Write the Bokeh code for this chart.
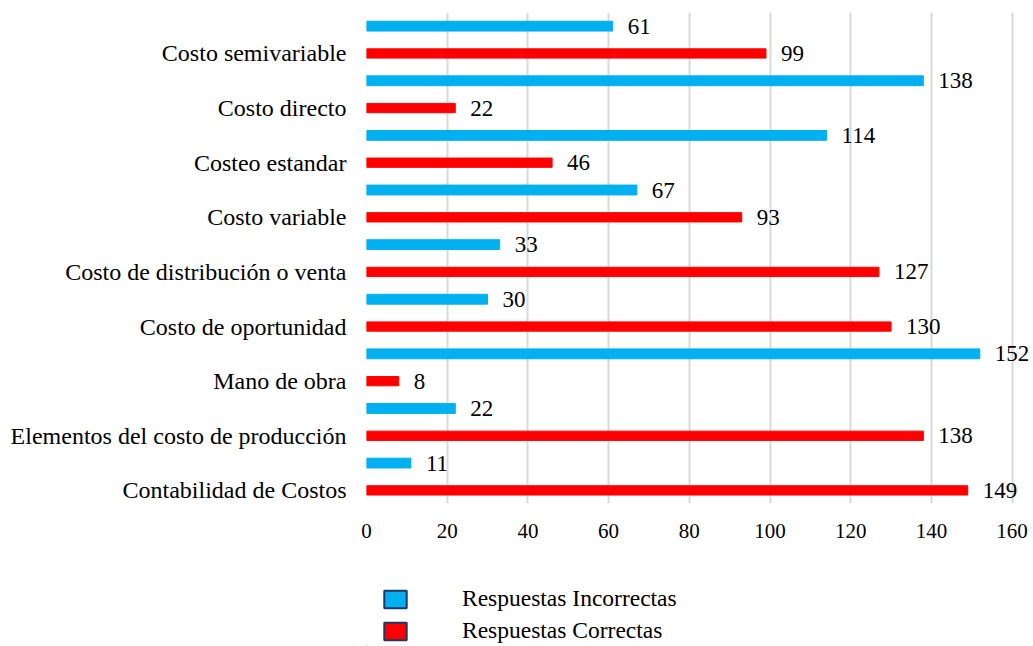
from bokeh.plotting import figure
from bokeh.layouts import column
from bokeh.models import ColumnDataSource, FixedTicker, Legend, LegendItem, Range1d
from bokeh.core.properties import value
from bokeh.embed import file_html
from bokeh.resources import INLINE

categories = [
    "Contabilidad de Costos",
    "Elementos del costo de producción",
    "Mano de obra",
    "Costo de oportunidad",
    "Costo de distribución o venta",
    "Costo variable",
    "Costeo estandar",
    "Costo directo",
    "Costo semivariable",
]
correctas = [149, 138, 8, 130, 127, 93, 46, 22, 99]
incorrectas = [11, 22, 152, 30, 33, 67, 114, 138, 61]
x_ticks = [0, 20, 40, 60, 80, 100, 120, 140, 160]
series = ["Respuestas Incorrectas", "Respuestas Correctas"]

FONT = "Liberation Serif"
RED = "#ff0000"
BLUE = "#00b0f0"

pos = list(range(len(categories)))
src_c = ColumnDataSource(dict(y=pos, v=correctas, t=[str(v) for v in correctas]))
src_i = ColumnDataSource(dict(y=[p + 0.5 for p in pos], v=incorrectas, t=[str(v) for v in incorrectas]))

p = figure(width=1033, height=560, output_backend="svg", toolbar_location=None,
           x_range=Range1d(0, 165.3), y_range=Range1d(-0.24, 8.75),
           min_border_left=366, min_border_right=0, min_border_top=12, min_border_bottom=57)
p.outline_line_color = None
p.background_fill_color = "white"

p.hbar(y="y", right="v", left=0, height=0.17, color=RED, source=src_c)
p.hbar(y="y", right="v", left=0, height=0.18, color=BLUE, source=src_i)

for s in (src_c, src_i):
    p.text(x="v", y="y", text="t", source=s, x_offset=15, text_baseline="middle",
           text_font=value(FONT), text_font_size="23px", text_color="black")

p.xaxis.ticker = FixedTicker(ticks=x_ticks)
p.xaxis.axis_line_color = None
p.xaxis.major_tick_line_color = None
p.xaxis.minor_tick_line_color = None
p.xaxis.major_tick_out = 0
p.xaxis.major_tick_in = 0
p.xaxis.major_label_standoff = 20
p.xaxis.major_label_text_font = FONT
p.xaxis.major_label_text_font_size = "21px"
p.xaxis.major_label_text_color = "black"

p.yaxis.ticker = FixedTicker(ticks=pos)
p.yaxis.major_label_overrides = {i: c for i, c in enumerate(categories)}
p.yaxis.axis_line_color = None
p.yaxis.major_tick_line_color = None
p.yaxis.minor_tick_line_color = None
p.yaxis.major_tick_out = 0
p.yaxis.major_tick_in = 0
p.yaxis.major_label_standoff = 20
p.yaxis.major_label_text_font = FONT
p.yaxis.major_label_text_font_size = "24px"
p.yaxis.major_label_text_color = "black"

p.ygrid.grid_line_color = None
p.xgrid.grid_line_color = "#d9d9d9"
p.xgrid.grid_line_width = 2

# legend figure (proxy glyphs lie far outside its visible area)
lg = figure(width=1033, height=86, output_backend="svg", toolbar_location=None,
            x_range=Range1d(0, 1), y_range=Range1d(0, 1),
            x_axis_location=None, y_axis_location=None,
            min_border_left=0, min_border_right=0, min_border_top=0, min_border_bottom=0)
lg.outline_line_color = None
lg.xgrid.grid_line_color = None
lg.ygrid.grid_line_color = None
r_inc = lg.hbar(y=[-50], left=[-50], right=[-49], height=0.1,
                fill_color=BLUE, line_color="#1f3864", line_width=2)
r_cor = lg.hbar(y=[-50], left=[-50], right=[-49], height=0.1,
                fill_color=RED, line_color="#1f3864", line_width=2)
legend = Legend(items=[LegendItem(label=series[0], renderers=[r_inc]),
                       LegendItem(label=series[1], renderers=[r_cor])],
                location=(15, 2), orientation="vertical",
                glyph_width=28, glyph_height=22, label_height=22, spacing=5,
                label_standoff=53, padding=0, margin=0, border_line_color=None,
                background_fill_alpha=0,
                label_text_font=FONT, label_text_font_size="23.5px", label_text_color="black")
lg.add_layout(legend, "center")

open("out.html", "w").write(file_html(column(p, lg, spacing=0), INLINE))
